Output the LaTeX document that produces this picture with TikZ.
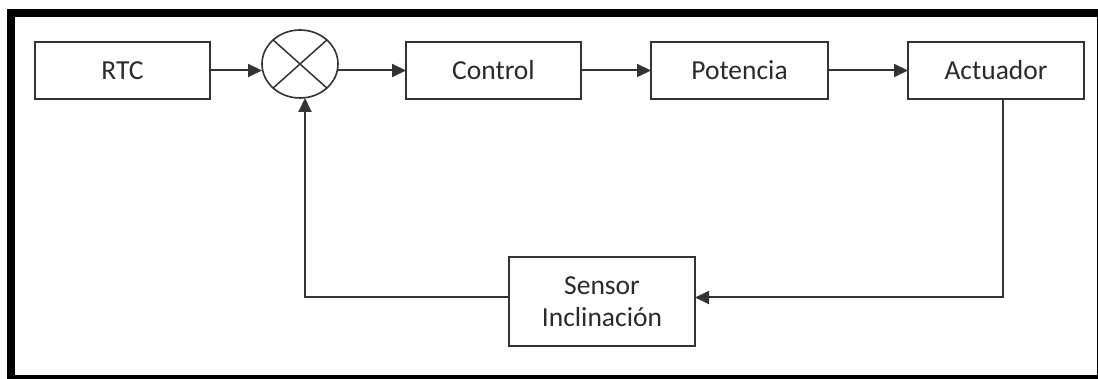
\documentclass[tikz,border=0pt]{standalone}
\usepackage{fontspec}
\setmainfont{Carlito}
\usepackage{tikz}
\usetikzlibrary{arrows.meta,positioning,shapes.geometric}
\definecolor{lazoGris}{HTML}{333333}
\definecolor{lazoTexto}{HTML}{2A2A2A}

\begin{document}
\begin{tikzpicture}[x=1pt,y=-1pt,
    font=\fontsize{27.5}{32}\selectfont,
    bloque/.style={draw=lazoGris,line width=2pt,inner sep=0pt,outer sep=0pt,
                   minimum height=57pt,text=lazoTexto,align=center},
    flecha/.style={draw=lazoGris,line width=2pt,
                   -{Triangle[length=14pt,width=13pt]}}]
  \path[use as bounding box] (0,0) rectangle (1098,379);
  \begin{scope}
    \clip (0,0) rectangle (1098,379);
    \draw[line width=8pt] (11,13) rectangle (1101,379);
  \end{scope}

  % cadena directa
  \node[bloque,minimum width=175pt] (rtc) at (122.5,70.5) {RTC};
  \node[draw=lazoGris,line width=1.6pt,ellipse,inner sep=0pt,outer sep=0pt,
        minimum width=76pt,minimum height=68pt] (suma) at (300,64) {};
  \draw[lazoGris,line width=1.5pt] (suma.north west) -- (suma.south east)
                                   (suma.north east) -- (suma.south west);
  \node[bloque,minimum width=175pt,anchor=west] (ctl) at (406,70.5) {Control};
  \node[bloque,minimum width=177pt,right=70pt of ctl] (pot) {Potencia};
  \node[bloque,minimum width=176pt,right=80pt of pot] (act) {Actuador};

  % realimentacion
  \node[bloque,minimum width=186pt,minimum height=89pt] (sen) at (602,301.5)
       {Sensor\\Inclinación};

  \draw[flecha] (rtc.east) -- (rtc.east -| suma.west);
  \draw[flecha] (suma.east |- ctl.west) -- (ctl.west);
  \draw[flecha] (ctl.east) -- (pot.west);
  \draw[flecha] (pot.east) -- (act.west);
  \draw[flecha] ([xshift=7pt]act.south) |- ([yshift=4pt]sen.east);
  \draw[flecha] ([yshift=4pt]sen.west) -| ([xshift=5pt]suma.south);
\end{tikzpicture}
\end{document}
